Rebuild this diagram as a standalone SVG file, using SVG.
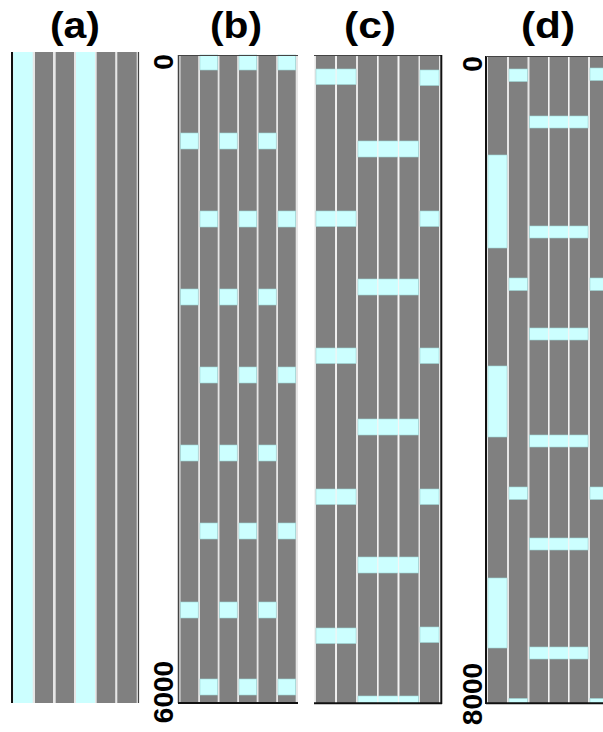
<svg xmlns="http://www.w3.org/2000/svg" width="603" height="732" viewBox="0 0 603 732">
<style>
.bg{fill:#e6e6e6}
.g{fill:#808080}
.c{fill:#ccffff;stroke:#9fd6d6;stroke-width:0.6}
.ca{fill:#ccffff}
.t{font-family:"Liberation Sans",Arial,sans-serif;font-weight:bold;font-size:36px;text-anchor:middle;fill:#000}
.n{font-family:"Liberation Sans",Arial,sans-serif;font-weight:bold;font-size:28px;text-anchor:middle;fill:#000}
.k{stroke:#111;fill:none}
.d{stroke:#444;fill:none}
.w{stroke:#f4f4f4;fill:none;stroke-width:1.2}
</style>
<rect width="603" height="732" fill="#fff"/>

<g id="label-a"><text class="t" x="75" y="38" textLength="50" lengthAdjust="spacingAndGlyphs">(a)</text></g>
<g id="label-b"><text class="t" x="236" y="38" textLength="52" lengthAdjust="spacingAndGlyphs">(b)</text></g>
<g id="label-c"><text class="t" x="370" y="38" textLength="52" lengthAdjust="spacingAndGlyphs">(c)</text></g>
<g id="label-d"><text class="t" x="548" y="38" textLength="54" lengthAdjust="spacingAndGlyphs">(d)</text></g>

<g id="panel-a">
<rect class="bg" x="12" y="52" width="127" height="651"/>
<rect class="ca" x="13.3" y="52" width="19.4" height="651"/>
<rect class="g" x="35" y="52" width="18" height="651"/>
<rect class="g" x="55.7" y="52" width="18.3" height="651"/>
<rect class="ca" x="76" y="52" width="19" height="651"/>
<rect class="g" x="96.7" y="52" width="18.5" height="651"/>
<rect class="g" x="117.3" y="52" width="19.4" height="651"/>
<line class="k" x1="12" y1="52" x2="12" y2="703" stroke-width="2"/>
<line class="d" x1="138.5" y1="52" x2="138.5" y2="703" stroke-width="1.2"/>
</g>

<g id="axis-b">
<text class="n" transform="translate(173,62) rotate(-90)">0</text>
<text class="n" transform="translate(173,692) rotate(-90)">6000</text>
</g>

<g id="panel-b">
<rect class="bg" x="179" y="55" width="119" height="648"/>
<rect class="g" x="180.5" y="55" width="17.7" height="648"/>
<rect class="g" x="200" y="55" width="17.7" height="648"/>
<rect class="g" x="219.5" y="55" width="17.7" height="648"/>
<rect class="g" x="239" y="55" width="17.7" height="648"/>
<rect class="g" x="258.5" y="55" width="17.7" height="648"/>
<rect class="g" x="278" y="55" width="17.7" height="648"/>
<g>
<rect class="c" x="200" y="55" width="17.7" height="15"/>
<rect class="c" x="239" y="55" width="17.7" height="15"/>
<rect class="c" x="278" y="55" width="17.7" height="15"/>
<rect class="c" x="200" y="211" width="17.7" height="16"/>
<rect class="c" x="239" y="211" width="17.7" height="16"/>
<rect class="c" x="278" y="211" width="17.7" height="16"/>
<rect class="c" x="200" y="367" width="17.7" height="16"/>
<rect class="c" x="239" y="367" width="17.7" height="16"/>
<rect class="c" x="278" y="367" width="17.7" height="16"/>
<rect class="c" x="200" y="523" width="17.7" height="16"/>
<rect class="c" x="239" y="523" width="17.7" height="16"/>
<rect class="c" x="278" y="523" width="17.7" height="16"/>
<rect class="c" x="200" y="679" width="17.7" height="16"/>
<rect class="c" x="239" y="679" width="17.7" height="16"/>
<rect class="c" x="278" y="679" width="17.7" height="16"/>
<rect class="c" x="180.5" y="133" width="17.7" height="16"/>
<rect class="c" x="219.5" y="133" width="17.7" height="16"/>
<rect class="c" x="258.5" y="133" width="17.7" height="16"/>
<rect class="c" x="180.5" y="289" width="17.7" height="16"/>
<rect class="c" x="219.5" y="289" width="17.7" height="16"/>
<rect class="c" x="258.5" y="289" width="17.7" height="16"/>
<rect class="c" x="180.5" y="445" width="17.7" height="16"/>
<rect class="c" x="219.5" y="445" width="17.7" height="16"/>
<rect class="c" x="258.5" y="445" width="17.7" height="16"/>
<rect class="c" x="180.5" y="602" width="17.7" height="16"/>
<rect class="c" x="219.5" y="602" width="17.7" height="16"/>
<rect class="c" x="258.5" y="602" width="17.7" height="16"/>
</g>
<line class="d" x1="178.5" y1="55" x2="178.5" y2="703" stroke-width="1.5"/>
<line class="d" x1="178" y1="55.5" x2="298" y2="55.5" stroke-width="1"/>
<line class="k" x1="178" y1="703" x2="298" y2="703" stroke-width="2"/>
</g>

<g id="panel-c">
<rect class="bg" x="314.5" y="55" width="126" height="648"/>
<rect class="g" x="316" y="55" width="19" height="648"/>
<rect class="g" x="337" y="55" width="19" height="648"/>
<rect class="g" x="358" y="55" width="19" height="648"/>
<rect class="g" x="378.5" y="55" width="19" height="648"/>
<rect class="g" x="399.5" y="55" width="19" height="648"/>
<rect class="g" x="420" y="55" width="19" height="648"/>
<g>
<rect class="c" x="316" y="69" width="40" height="15.5"/>
<rect class="c" x="316" y="211" width="40" height="15.5"/>
<rect class="c" x="316" y="348" width="40" height="15.5"/>
<rect class="c" x="316" y="489" width="40" height="15.5"/>
<rect class="c" x="316" y="628" width="40" height="15.5"/>
<rect class="c" x="420" y="70" width="19" height="15.5"/>
<rect class="c" x="420" y="211" width="19" height="15.5"/>
<rect class="c" x="420" y="348" width="19" height="15.5"/>
<rect class="c" x="420" y="489" width="19" height="15.5"/>
<rect class="c" x="420" y="627" width="19" height="15.5"/>
<rect class="c" x="358" y="141" width="60.5" height="16"/>
<rect class="c" x="358" y="279" width="60.5" height="16"/>
<rect class="c" x="358" y="419" width="60.5" height="16"/>
<rect class="c" x="358" y="557" width="60.5" height="16"/>
<rect class="c" x="358" y="696" width="60.5" height="7"/>
</g>
<line class="w" x1="336.1" y1="55" x2="336.1" y2="703"/>
<line class="w" x1="377.8" y1="55" x2="377.8" y2="703"/>
<line class="w" x1="398.5" y1="55" x2="398.5" y2="703"/>
<line class="d" x1="314" y1="55.5" x2="442" y2="55.5" stroke-width="1"/>
<line class="k" x1="441.3" y1="55" x2="441.3" y2="704" stroke-width="2"/>
<line class="k" x1="314" y1="703.3" x2="442" y2="703.3" stroke-width="2"/>
</g>

<g id="axis-d">
<text class="n" transform="translate(482,64) rotate(-90)">0</text>
<text class="n" transform="translate(482,694) rotate(-90)">8000</text>
</g>

<g id="panel-d">
<rect class="bg" x="486" y="56" width="117" height="647"/>
<rect class="g" x="488" y="56" width="19" height="647"/>
<rect class="g" x="509" y="56" width="18.5" height="647"/>
<rect class="g" x="529.5" y="56" width="18.5" height="647"/>
<rect class="g" x="549.5" y="56" width="18.5" height="647"/>
<rect class="g" x="569.5" y="56" width="18.5" height="647"/>
<rect class="g" x="590" y="56" width="18.5" height="647"/>
<g>
<rect class="c" x="488" y="155" width="19" height="93"/>
<rect class="c" x="488" y="366" width="19" height="71"/>
<rect class="c" x="488" y="578" width="19" height="70"/>
<rect class="c" x="509" y="69" width="18.5" height="12.5"/>
<rect class="c" x="509" y="278" width="18.5" height="12.5"/>
<rect class="c" x="509" y="487" width="18.5" height="12.5"/>
<rect class="c" x="509" y="698.5" width="18.5" height="4.5"/>
<rect class="c" x="590" y="68" width="18.5" height="12.5"/>
<rect class="c" x="590" y="278" width="18.5" height="12.5"/>
<rect class="c" x="590" y="487" width="18.5" height="12.5"/>
<rect class="c" x="590" y="698.5" width="18.5" height="4.5"/>
<rect class="c" x="529.5" y="116" width="58.5" height="12"/>
<rect class="c" x="529.5" y="226" width="58.5" height="12"/>
<rect class="c" x="529.5" y="328" width="58.5" height="12"/>
<rect class="c" x="529.5" y="435" width="58.5" height="12"/>
<rect class="c" x="529.5" y="538" width="58.5" height="12"/>
<rect class="c" x="529.5" y="647" width="58.5" height="12"/>
</g>
<line class="w" x1="548.7" y1="56" x2="548.7" y2="703"/>
<line class="w" x1="568.7" y1="56" x2="568.7" y2="703"/>
<line class="k" x1="486" y1="56" x2="486" y2="704" stroke-width="2"/>
<line class="d" x1="486" y1="56.5" x2="603" y2="56.5" stroke-width="1"/>
<line class="k" x1="486" y1="703.3" x2="603" y2="703.3" stroke-width="2"/>
</g>
</svg>
